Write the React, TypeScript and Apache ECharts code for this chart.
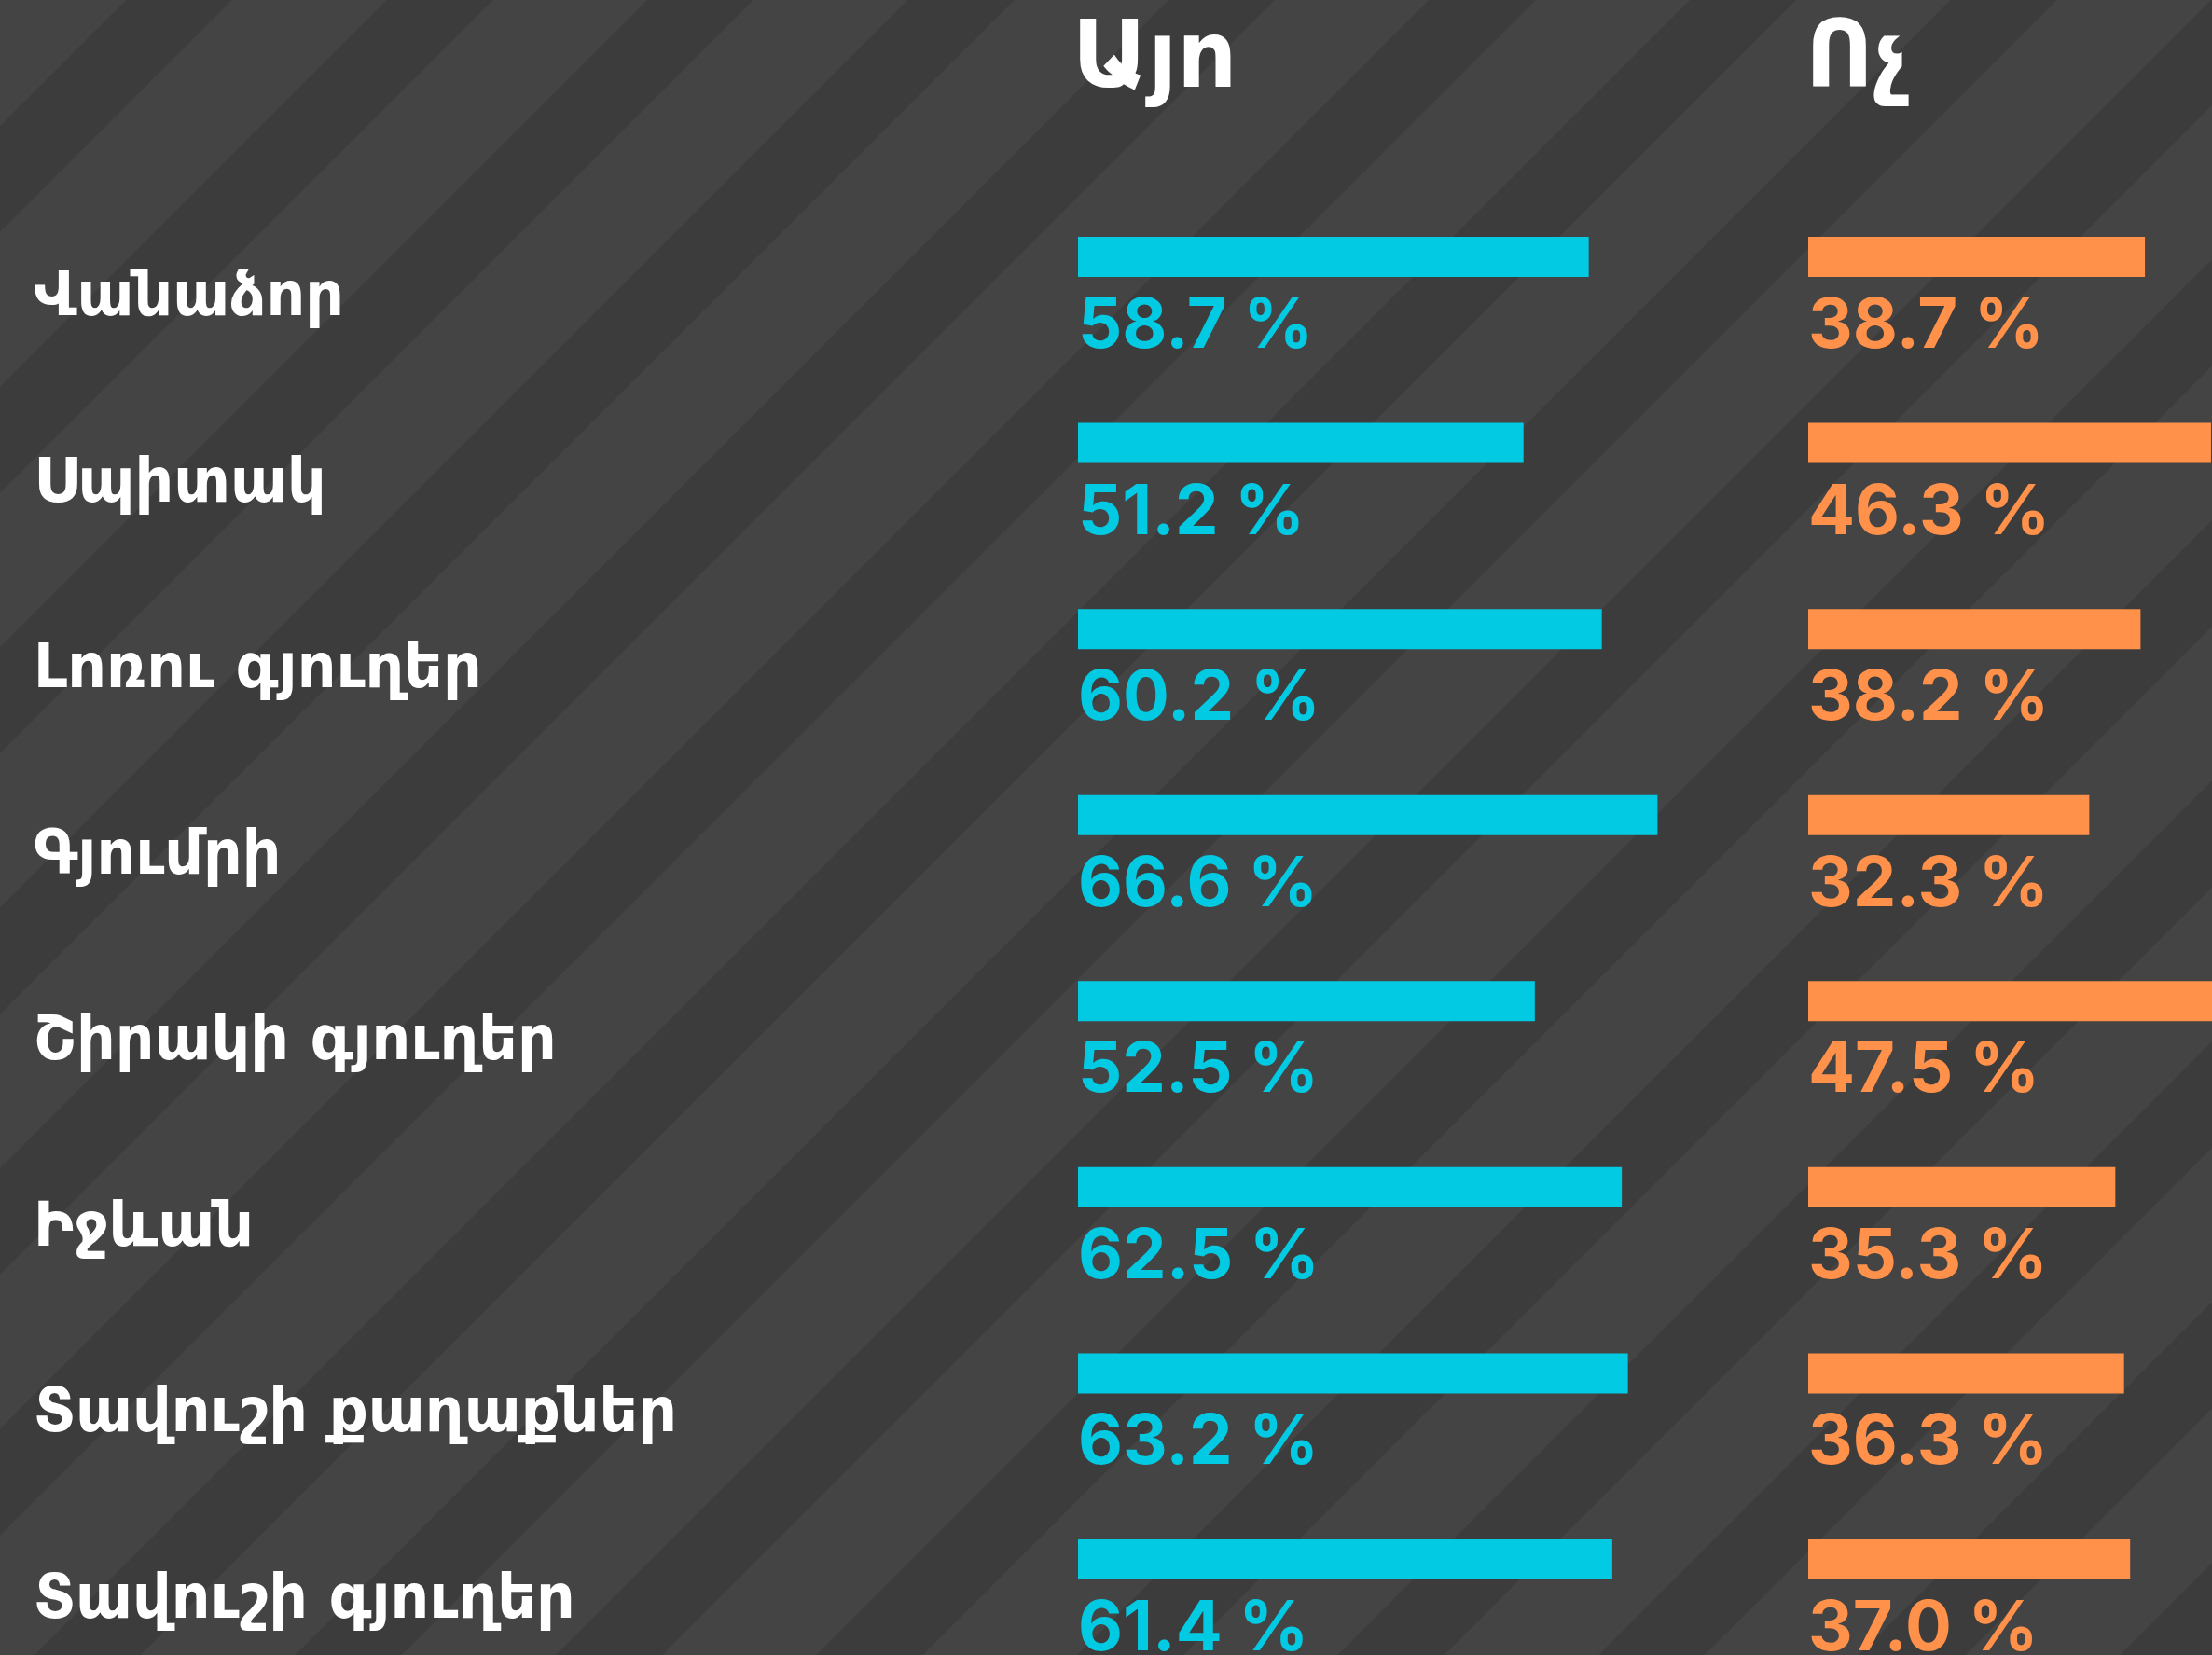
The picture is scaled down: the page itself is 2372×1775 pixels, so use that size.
import React, { useEffect, useRef } from "react";
import * as echarts from "echarts";

const categories = [
  "Վանաձոր",
  "Սպիտակ",
  "Լոռու գյուղեր",
  "Գյումրի",
  "Շիրակի գյուղեր",
  "Իջևան",
  "Տավուշի քաղաքներ",
  "Տավուշի գյուղեր",
];
const yesValues = [58.7, 51.2, 60.2, 66.6, 52.5, 62.5, 63.2, 61.4];
const noValues = [38.7, 46.3, 38.2, 32.3, 47.5, 35.3, 36.3, 37.0];
const headers = ["Այո", "Ոչ"];

const W = 2372;
const H = 1775;
const BLUE = "#03cae3";
const ORANGE = "#ff914a";
const ARM_FONT = "'DejaVu Sans', 'Noto Sans', sans-serif";
const NUM_FONT = "Inter, 'Noto Sans', sans-serif";
const PX_PER_PCT = 9.33;

function stripes() {
  const els: any[] = [];
  const P = 279.5;
  const w = 114;
  const c0 = 135;
  for (let k = -1; k < 17; k++) {
    const s = c0 + k * P;
    els.push({
      type: "polygon",
      silent: true,
      z: -10,
      shape: {
        points: [
          [s, 0],
          [s + w, 0],
          [s + w - H, H],
          [s - H, H],
        ],
      },
      style: { fill: "#3c3c3c" },
    });
  }
  return els;
}

export default function App() {
  const ref = useRef<HTMLDivElement>(null);
  useEffect(() => {
    if (!ref.current) return;
    const chart = echarts.init(ref.current, null, { renderer: "svg" });
    const top = 175.7;
    const height = 1596.6;
    const leftYes = 1156;
    const leftNo = 1939;
    const widthYes = 700;
    const widthNo = W - leftNo;
    const valueLabel = (color: string) => ({
      show: true,
      position: [0, "100%"],
      align: "left",
      verticalAlign: "middle",
      offset: [0, 49],
      color,
      fontFamily: NUM_FONT,
      fontWeight: 700,
      fontSize: 74,
      formatter: (p: any) => `${Number(p.value).toFixed(1)} %`,
    });
    const headerText = (text: string, x: number) => ({
      type: "text",
      x,
      y: 58,
      z: 10,
      style: {
        text,
        fill: "#ffffff",
        fontSize: 100,
        fontWeight: "bold",
        fontFamily: ARM_FONT,
        verticalAlign: "middle",
      },
    });
    chart.setOption({
      animation: false,
      backgroundColor: "#444444",
      graphic: [...stripes(), headerText(headers[0], 1150), headerText(headers[1], 1936)],
      grid: [
        { left: leftYes, top, width: widthYes, height },
        { left: leftNo, top, width: widthNo, height },
      ],
      xAxis: [
        { type: "value", gridIndex: 0, min: 0, max: widthYes / PX_PER_PCT, show: false },
        { type: "value", gridIndex: 1, min: 0, max: widthNo / PX_PER_PCT, show: false },
      ],
      yAxis: [
        {
          type: "category",
          gridIndex: 0,
          data: categories,
          inverse: true,
          axisLine: { show: false },
          axisTick: { show: false },
          splitLine: { show: false },
          axisLabel: {
            show: true,
            align: "left",
            margin: leftYes - 36,
            color: "#ffffff",
            fontFamily: ARM_FONT,
            fontWeight: "bold",
            fontSize: 65,
            verticalAlign: "top",
            lineHeight: 80,
          },
        },
        {
          type: "category",
          gridIndex: 1,
          data: categories,
          inverse: true,
          show: false,
        },
      ],
      series: [
        {
          type: "bar",
          xAxisIndex: 0,
          yAxisIndex: 0,
          data: yesValues,
          barWidth: 43,
          itemStyle: { color: BLUE },
          label: valueLabel(BLUE),
        },
        {
          type: "bar",
          xAxisIndex: 1,
          yAxisIndex: 1,
          data: noValues,
          barWidth: 43,
          itemStyle: { color: ORANGE },
          label: valueLabel(ORANGE),
        },
      ],
    });
    return () => chart.dispose();
  }, []);
  return (
    <div
      ref={ref}
      style={{ position: "fixed", left: 0, top: 0, width: W, height: H }}
    />
  );
}
